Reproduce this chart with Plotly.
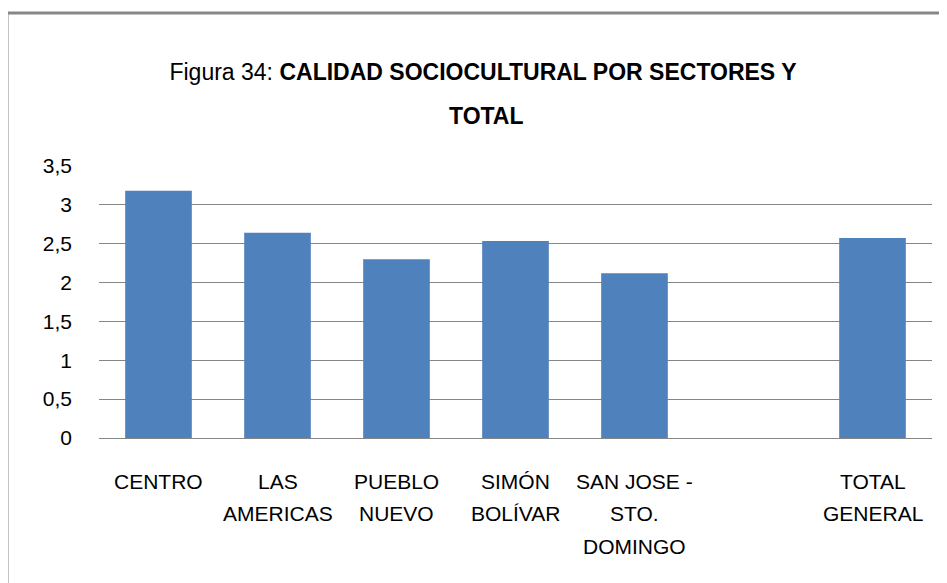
import plotly.graph_objects as go

categories = ["CENTRO", "LAS<br>AMERICAS", "PUEBLO<br>NUEVO", "SIMÓN<br>BOLÍVAR",
              "SAN JOSE -<br>STO.<br>DOMINGO", "", "TOTAL<br>GENERAL"]
values = [3.18, 2.64, 2.30, 2.535, 2.12, None, 2.575]
y_ticks = [0, 0.5, 1, 1.5, 2, 2.5, 3, 3.5]
y_tick_labels = ["0", "0,5", "1", "1,5", "2", "2,5", "3", "3,5"]

FONT = "Liberation Sans, Arial, sans-serif"
OFF = 8  # page body margin
W, H = 947 - OFF, 583 - OFF
L, R, T, B = 99 - OFF, 15, 166 - OFF, 145
pw, ph = W - L - R, H - T - B

xs = list(range(len(categories)))
fig = go.Figure(go.Bar(x=xs, y=values, marker=dict(color="#4F81BD", line=dict(width=0)),
                       width=0.56, hoverinfo="skip"))

fig.update_layout(
    width=W, height=H,
    margin=dict(l=L, r=R, t=T, b=B, pad=0),
    paper_bgcolor="white", plot_bgcolor="white",
    showlegend=False,
    font=dict(family=FONT, size=22, color="#000000"),
    title=dict(text="Figura 34: <b>CALIDAD SOCIOCULTURAL POR SECTORES Y</b>",
               x=(483 - OFF) / W, xanchor="center", xref="container",
               y=1 - (72 - OFF) / H, yanchor="middle", yref="container",
               font=dict(family=FONT, size=23, color="#000000")),
)
fig.add_annotation(text="<b>TOTAL</b>", xref="paper", yref="paper",
                   x=(486 - OFF - L) / pw, y=1 + (T - (116 - OFF)) / ph,
                   xanchor="center", yanchor="middle", showarrow=False,
                   font=dict(family=FONT, size=23, color="#000000"))

fig.update_xaxes(range=[-0.5, len(categories) - 0.5], showticklabels=False,
                 showgrid=False, zeroline=False, showline=False, ticks="")
fig.update_yaxes(range=[0, 3.5], tickvals=y_ticks, ticktext=y_tick_labels,
                 showgrid=True, gridcolor="#868686", gridwidth=1,
                 zeroline=True, zerolinecolor="#868686", zerolinewidth=1,
                 showline=False, ticks="", ticklabelstandoff=26,
                 tickfont=dict(family=FONT, size=21, color="#000000"))

# category labels, one annotation per line for Excel-like line spacing
for i, cat in enumerate(categories):
    for j, line in enumerate(cat.split("<br>")):
        if not line:
            continue
        fig.add_annotation(text=line, x=xs[i], y=0, xref="x", yref="y",
                           xanchor="center", yanchor="middle", showarrow=False,
                           yshift=-(43 + 32.5 * j),
                           font=dict(family=FONT, size=21, color="#000000"))

# outer frame
fig.add_shape(type="rect", xref="paper", yref="paper",
              x0=(7 - OFF - L) / pw, x1=(W + 10 - L) / pw,
              y0=-(B + 10) / ph, y1=1 + (T - (13 - OFF)) / ph,
              line=dict(color="#878787", width=3), fillcolor="rgba(0,0,0,0)", layer="below")

fig.write_html("out.html")
